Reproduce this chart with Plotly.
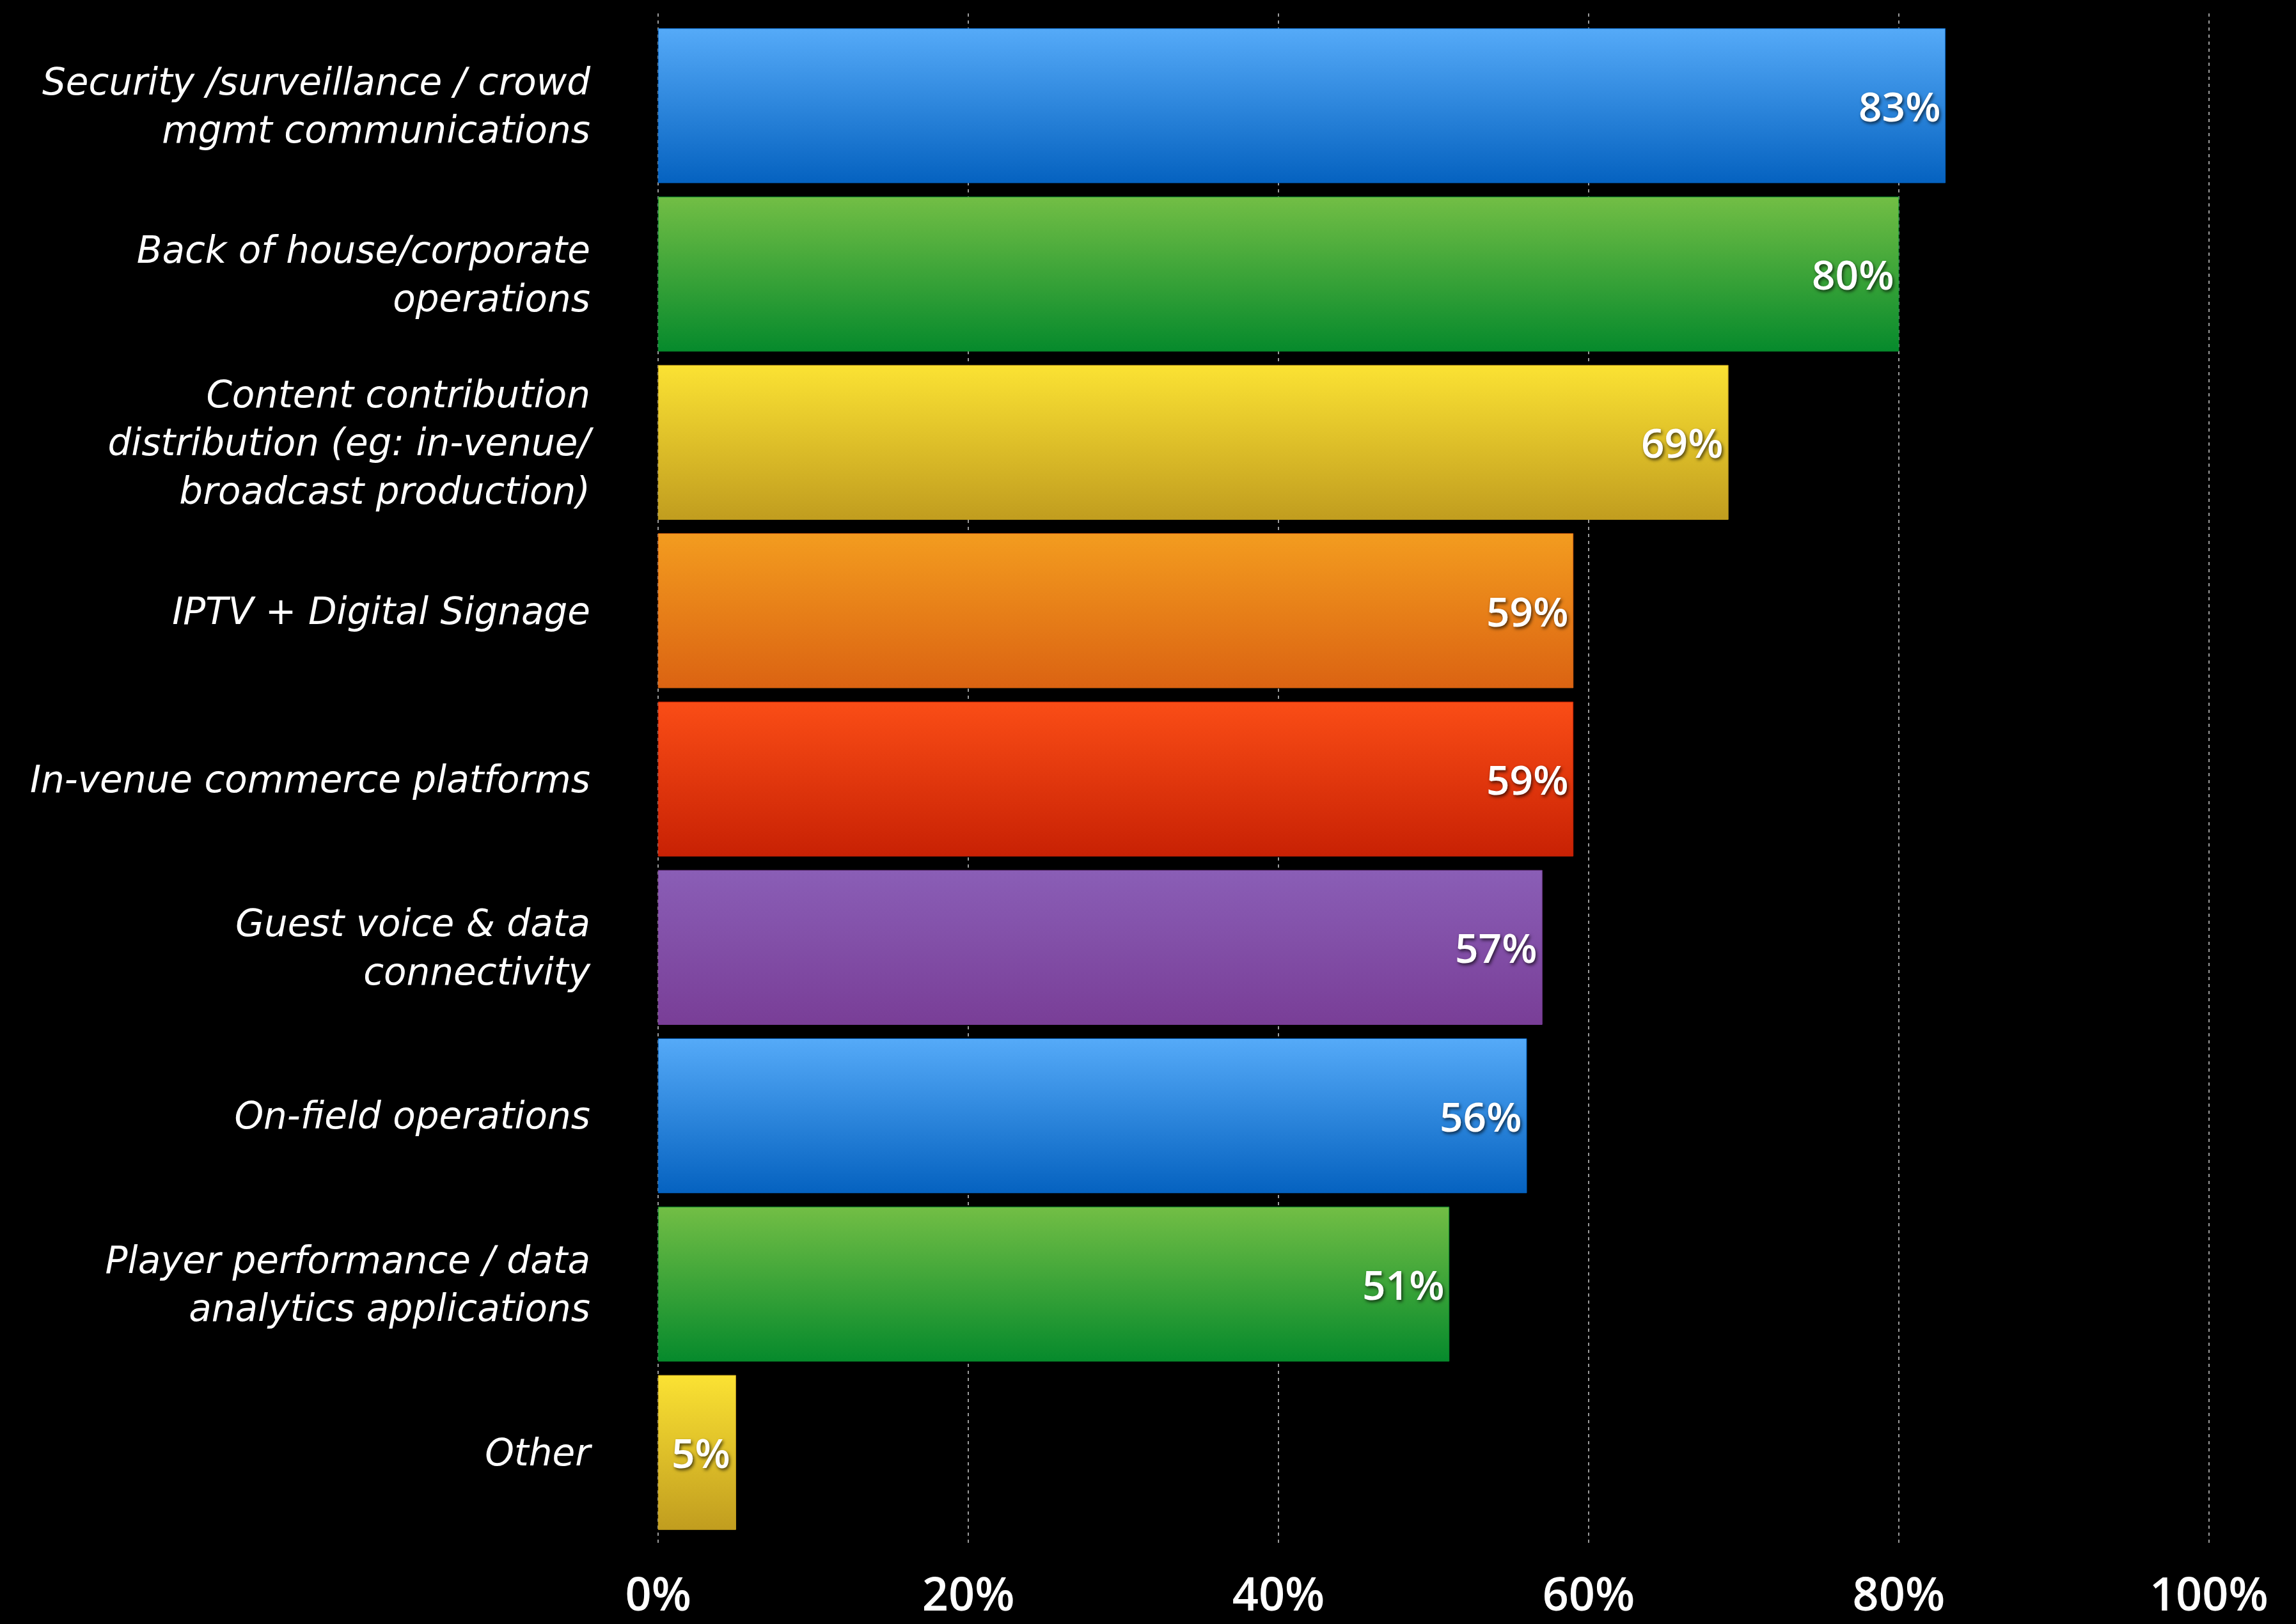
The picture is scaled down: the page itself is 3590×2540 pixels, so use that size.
import plotly.graph_objects as go

# Survey results: share of respondents per use case
categories = [
    "Security /surveillance / crowd<br>mgmt communications",
    "Back of house/corporate<br>operations",
    "Content contribution<br>distribution (eg: in-venue/<br>broadcast production)",
    "IPTV + Digital Signage",
    "In-venue commerce platforms",
    "Guest voice & data<br>connectivity",
    "On-field operations",
    "Player performance / data<br>analytics applications",
    "Other",
]
values = [83, 80, 69, 59, 59, 57, 56, 51, 5]
tick_values = [0, 20, 40, 60, 80, 100]
tick_labels = ["0%", "20%", "40%", "60%", "80%", "100%"]

# Gradient (top colour, bottom colour) for each bar
top_colors = ["#55aaf8", "#72be45", "#fbe233", "#f39c1f", "#fa4d16",
              "#8a5eb6", "#55aaf8", "#72be45", "#fbe233"]
bottom_colors = ["#0562c0", "#068a2c", "#c19d1f", "#db6312", "#c82104",
                 "#793e97", "#0562c0", "#068a2c", "#c19d1f"]

BAR_HALF = 0.458  # half bar thickness in category units

fig = go.Figure()

for i, (cat, v) in enumerate(zip(categories, values)):
    y0, y1 = i - BAR_HALF, i + BAR_HALF
    fig.add_trace(go.Scatter(
        x=[0, v, v, 0, 0],
        y=[y0, y0, y1, y1, y0],
        mode="lines",
        fill="toself",
        line=dict(width=1, color=bottom_colors[i]),
        fillgradient=dict(
            type="vertical",
            colorscale=[[0, bottom_colors[i]], [1, top_colors[i]]],
        ),
        hoverinfo="skip",
        showlegend=False,
    ))
    fig.add_annotation(
        x=v, y=i, text=f"{v}%",
        xanchor="right", yanchor="middle", xshift=-6,
        showarrow=False,
        font=dict(family="Open Sans", size=64, color="white", weight=600,
                  shadow="2px 3px 5px rgba(0,0,0,0.65)"),
    )

fig.update_layout(
    width=3590, height=2540,
    margin=dict(l=1028, r=135, t=21, b=124),
    paper_bgcolor="black",
    plot_bgcolor="black",
    showlegend=False,
    xaxis=dict(
        range=[-0.05, 100.05],
        tickvals=tick_values,
        ticktext=tick_labels,
        showgrid=True,
        gridcolor="#9a9a9a",
        gridwidth=2,
        griddash="5px,6px",
        zeroline=False,
        showline=False,
        ticks="",
        ticklabelstandoff=30,
        tickfont=dict(family="Open Sans", size=72, color="white", weight=600),
        automargin=False,
    ),
    yaxis=dict(
        range=[8.548, -0.548],
        tickvals=list(range(len(categories))),
        ticktext=categories,
        showgrid=False,
        zeroline=False,
        showline=False,
        ticks="",
        ticklabelstandoff=104,
        tickfont=dict(family="DejaVu Sans", size=58, color="white", style="italic"),
        automargin=False,
    ),
)

fig.write_html("out.html")
